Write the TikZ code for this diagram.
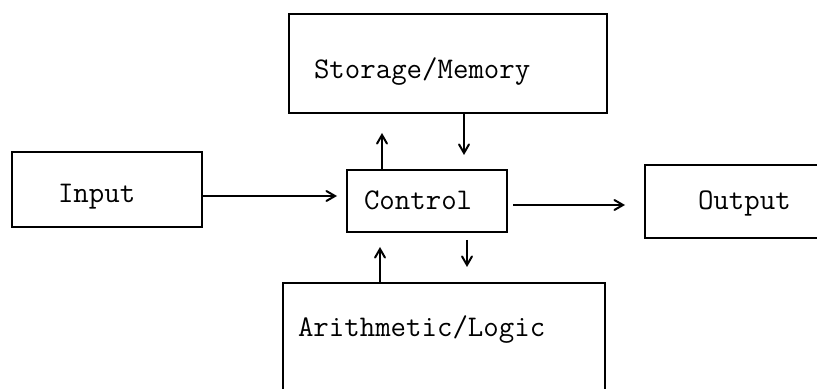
\documentclass[tikz,border=0pt]{standalone}
\usepackage{fontspec}
\usetikzlibrary{arrows}

\begin{document}
\begin{tikzpicture}[x=0.5pt,y=-0.5pt,
  ->,>=angle 60,line width=1pt,
  unit/.style={draw,rectangle,inner sep=0pt,outer sep=0pt,-},
  word/.style={anchor=west,inner sep=0pt,font=\ttfamily\fontsize{15}{18}\selectfont}]

  \clip (0,0) rectangle (817,389);

  % boxes
  \node [unit,minimum width=159pt,minimum height=49.5pt] (storage) at (448,63.5) {};
  \node [unit,minimum width=80pt,minimum height=31pt] (control) at (427,201) {};
  \node [unit,minimum width=95pt,minimum height=37.5pt] (input) at (107,189.5) {};
  \node [unit,minimum width=152.5pt,minimum height=36.5pt] (output) at (797.5,201.5) {};
  \node [unit,minimum width=161pt,minimum height=88.5pt] (arith) at (444,371.5) {};

  % texts
  \node [word] (storagetext) at (313,72) {Storage/Memory};
  \node [word] (controltext) at (363,200) {Control};
  \node [word] (inputtext) at (57,197) {Input};
  \node [word] (outputtext) at (697,203) {Output};
  \node [word] (arithtext) at (297,330) {Arithmetic/Logic};

  \coordinate (in1) at ([yshift=-3.25pt]input.east);
  \coordinate (out1) at ([yshift=-2pt]control.east);
  \coordinate (up1) at ([xshift=-22.5pt]control.north);
  \coordinate (dn1) at ([xshift=18.5pt]control.north);
  \coordinate (up2) at ([xshift=-23.5pt]control.south);
  \coordinate (dn2) at ([xshift=20pt]control.south);

  \draw[shorten >=5pt] (in1) -- (in1 -| control.west);
  \draw[shorten <=3pt,shorten >=10pt] (out1) -- (out1 -| output.west);
  \draw[shorten >=10pt] (up1) -- (up1 |- storage.south);
  \draw[shorten >=7.5pt] (dn1 |- storage.south) -- (dn1);
  \draw[shorten >=7.5pt] (up2 |- arith.north) -- (up2);
  \draw[shorten <=4pt,shorten >=8pt] (dn2) -- (dn2 |- arith.north);

\end{tikzpicture}
\end{document}
